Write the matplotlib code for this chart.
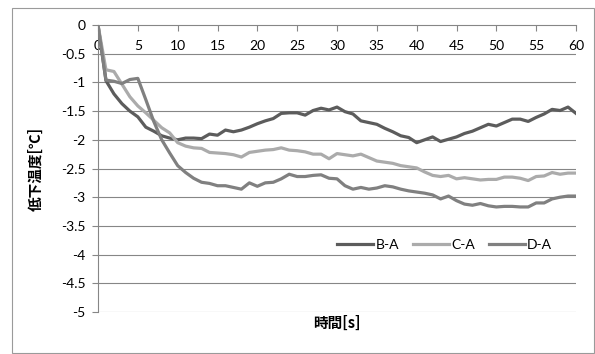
import matplotlib
matplotlib.use("Agg")
import matplotlib.pyplot as plt
from matplotlib.patches import Rectangle

plt.rcParams['font.family'] = ['Lato', 'Noto Sans CJK JP', 'DejaVu Sans']

# time [s] and temperature drop of each pair
t = list(range(61))
b_a = [0, -0.97, -1.2, -1.37, -1.5, -1.6, -1.78, -1.85, -1.93, -1.97,
       -2.0, -1.97, -1.97, -1.98, -1.9, -1.92, -1.83, -1.86, -1.83, -1.78,
       -1.72, -1.67, -1.63, -1.54, -1.53, -1.53, -1.57, -1.49, -1.45, -1.48,
       -1.43, -1.51, -1.55, -1.67, -1.7, -1.73, -1.8, -1.86, -1.93, -1.96,
       -2.05, -2.0, -1.95, -2.03, -1.99, -1.95, -1.89, -1.85, -1.79, -1.73,
       -1.76, -1.7, -1.64, -1.64, -1.68, -1.61, -1.55, -1.47, -1.49, -1.43,
       -1.54]
c_a = [0, -0.78, -0.81, -1.03, -1.25, -1.41, -1.53, -1.66, -1.79, -1.88,
       -2.05, -2.11, -2.14, -2.15, -2.22, -2.23, -2.24, -2.26, -2.3, -2.22,
       -2.2, -2.18, -2.17, -2.14, -2.18, -2.19, -2.21, -2.25, -2.25, -2.33,
       -2.24, -2.26, -2.28, -2.25, -2.31, -2.37, -2.39, -2.41, -2.45, -2.47,
       -2.49, -2.56, -2.62, -2.64, -2.62, -2.68, -2.66, -2.68, -2.7, -2.69,
       -2.69, -2.65, -2.65, -2.67, -2.71, -2.64, -2.63, -2.57, -2.6, -2.58,
       -2.58]
d_a = [0, -0.96, -0.98, -1.02, -0.95, -0.93, -1.3, -1.68, -2.0, -2.23,
       -2.45, -2.57, -2.67, -2.74, -2.76, -2.8, -2.8, -2.83, -2.86, -2.75,
       -2.81, -2.75, -2.74, -2.68, -2.6, -2.64, -2.64, -2.62, -2.61, -2.67,
       -2.68, -2.8, -2.86, -2.83, -2.86, -2.84, -2.8, -2.82, -2.86, -2.89,
       -2.91, -2.93, -2.96, -3.03, -2.98, -3.06, -3.12, -3.14, -3.11, -3.15,
       -3.17, -3.16, -3.16, -3.17, -3.17, -3.1, -3.1, -3.03, -3.0, -2.98,
       -2.98]

xticks = list(range(0, 61, 5))
yticks = [0, -0.5, -1, -1.5, -2, -2.5, -3, -3.5, -4, -4.5, -5]

fig = plt.figure(figsize=(5.95, 3.54), dpi=100)
fig.patches.append(Rectangle((12 / 595, 1 / 354), 582 / 595, 345 / 354,
                             transform=fig.transFigure, fill=False,
                             edgecolor='#9a9a9a', linewidth=0.8))
ax = fig.add_axes([98 / 595, 1 - 312 / 354, 478 / 595, 287 / 354])

grid_c = '#868686'
for y in yticks[1:]:
    ax.axhline(y, color=grid_c, lw=0.8, zorder=1)

ax.plot(t, b_a, color='#5c5c5c', lw=2.3, label='B-A', zorder=3)
ax.plot(t, c_a, color='#ababab', lw=2.3, label='C-A', zorder=3)
ax.plot(t, d_a, color='#808080', lw=2.3, label='D-A', zorder=3)

ax.set_xlim(0, 60)
ax.set_ylim(-5, 0)
ax.set_xticks(xticks)
ax.set_yticks(yticks)
ax.set_yticklabels(['0' if v == 0 else ('%g' % v) for v in yticks])

for s in ['top', 'right']:
    ax.spines[s].set_visible(False)
ax.spines['bottom'].set_position(('data', 0))
ax.spines['bottom'].set_color(grid_c)
ax.spines['left'].set_color(grid_c)
ax.spines['bottom'].set_zorder(2)

ax.tick_params(axis='x', direction='out', length=4, width=0.8, color=grid_c,
               pad=7, labelsize=10, labelcolor='black')
ax.tick_params(axis='y', direction='out', length=4, width=0.8, color=grid_c,
               pad=5, labelsize=10, labelcolor='black')

ax.set_ylabel('低下温度[℃]', fontsize=10.5, fontweight='bold',
              family=['Noto Sans CJK JP', 'DejaVu Sans'])
ax.yaxis.set_label_coords(-0.113, 0.5)
ax.text(0.5, -0.038, '時間[s]', transform=ax.transAxes, ha='center',
        va='center', fontsize=10.5, fontweight='bold',
        family=['Noto Sans CJK JP', 'DejaVu Sans'])

ax.legend(loc='center', bbox_to_anchor=(0.725, 0.233), ncol=3, frameon=False,
          fontsize=10, handlelength=2.6, columnspacing=1.0, handletextpad=0.15)

fig.savefig('out.png', dpi=100)
